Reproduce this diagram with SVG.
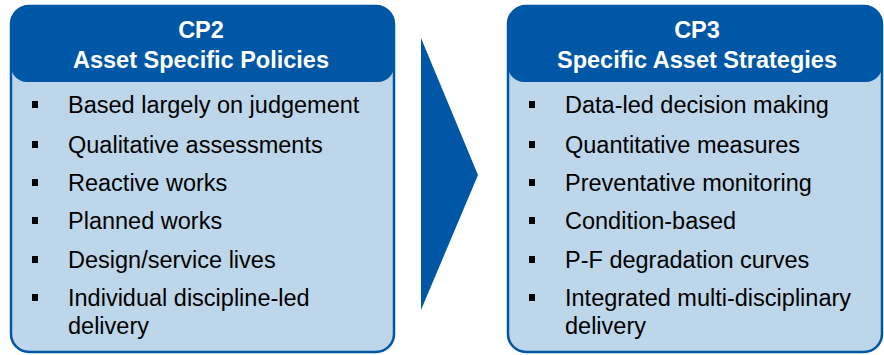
<svg xmlns="http://www.w3.org/2000/svg" width="884" height="355" viewBox="0 0 884 355">
<style>
.box{fill:#BDD6EA;stroke:#0057A6;stroke-width:2.5}
.hdr{fill:#0057A6}
.ht{font-family:"Liberation Sans",Arial,sans-serif;font-weight:bold;font-size:23.5px;fill:#fff;text-anchor:middle}
.t{font-family:"Liberation Sans",Arial,sans-serif;font-size:23.5px;fill:#000}
.b{fill:#000}
</style>
<rect width="884" height="355" fill="#fff"/>
<g id="cp2">
<rect class="box" x="11" y="6" width="383" height="346" rx="18"/>
<rect class="hdr" x="11" y="6" width="383" height="76" rx="16"/>
<text class="ht" x="201" y="38">CP2</text>
<text class="ht" x="201" y="68">Asset Specific Policies</text>
<g class="b">
<rect x="32" y="101" width="6" height="7"/>
<rect x="32" y="141" width="6" height="7"/>
<rect x="32" y="179" width="6" height="7"/>
<rect x="32" y="217" width="6" height="7"/>
<rect x="32" y="256" width="6" height="7"/>
<rect x="32" y="294" width="6" height="7"/>
</g>
<text class="t" x="68" y="113">Based largely on judgement</text>
<text class="t" x="68" y="153">Qualitative assessments</text>
<text class="t" x="68" y="191">Reactive works</text>
<text class="t" x="68" y="229">Planned works</text>
<text class="t" x="68" y="268">Design/service lives</text>
<text class="t" x="68" y="306">Individual discipline-led</text>
<text class="t" x="68" y="334">delivery</text>
</g>
<g id="arrow">
<polygon points="421,38 478,175 421,310" fill="#0057A6"/>
</g>
<g id="cp3">
<rect class="box" x="508" y="6" width="374" height="346" rx="18"/>
<rect class="hdr" x="508" y="6" width="374" height="76" rx="16"/>
<text class="ht" x="697" y="38">CP3</text>
<text class="ht" x="697" y="68">Specific Asset Strategies</text>
<g class="b">
<rect x="529" y="101" width="6" height="7"/>
<rect x="529" y="141" width="6" height="7"/>
<rect x="529" y="179" width="6" height="7"/>
<rect x="529" y="217" width="6" height="7"/>
<rect x="529" y="256" width="6" height="7"/>
<rect x="529" y="294" width="6" height="7"/>
</g>
<text class="t" x="565" y="113">Data-led decision making</text>
<text class="t" x="565" y="153">Quantitative measures</text>
<text class="t" x="565" y="191">Preventative monitoring</text>
<text class="t" x="565" y="229">Condition-based</text>
<text class="t" x="565" y="268">P-F degradation curves</text>
<text class="t" x="565" y="306">Integrated multi-disciplinary</text>
<text class="t" x="565" y="334">delivery</text>
</g>
</svg>
